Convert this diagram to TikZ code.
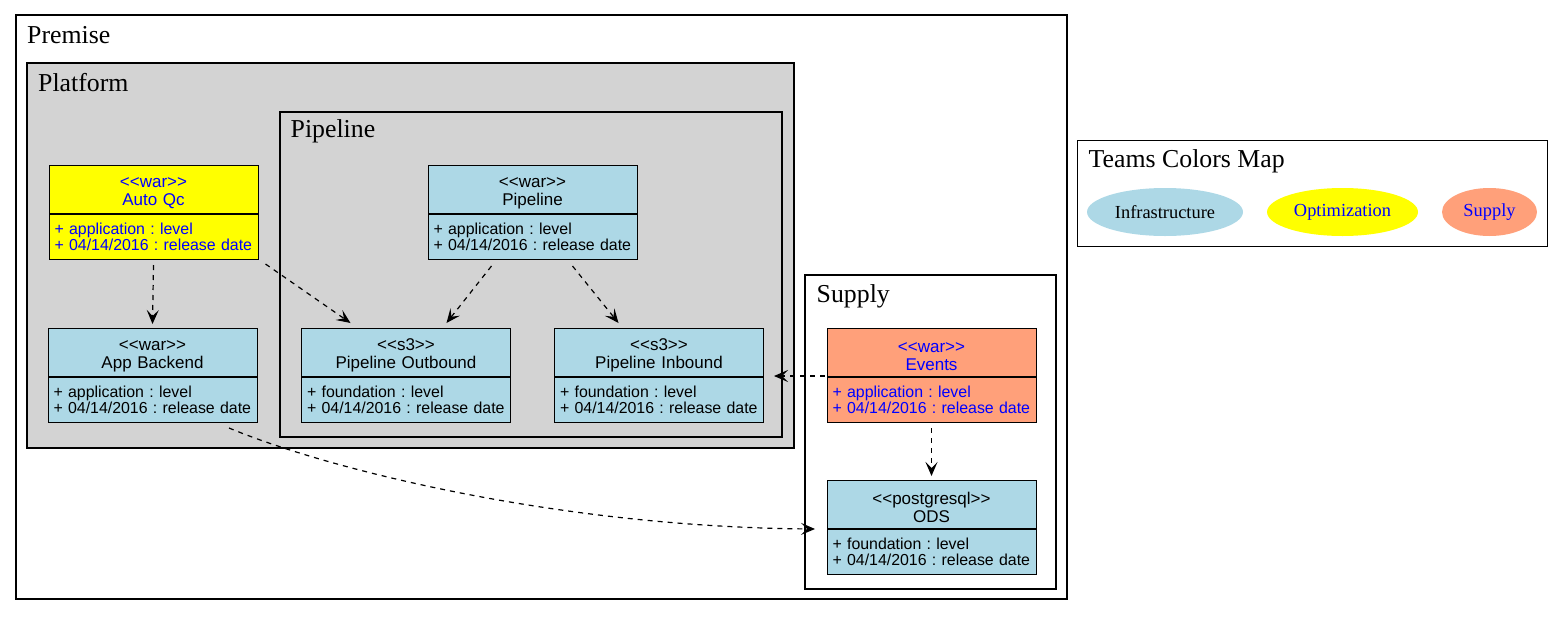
\documentclass[tikz,border=0pt]{standalone}
\usepackage{fontspec}
\setmainfont{Liberation Serif}
\newfontfamily\classfont{Liberation Sans}
\usetikzlibrary{arrows.meta,shapes.geometric}

\definecolor{infra}{HTML}{ADD8E6}
\definecolor{optim}{HTML}{FFFF00}
\definecolor{supplyc}{HTML}{FFA07A}
\definecolor{platformgray}{HTML}{D3D3D3}
\definecolor{teamblue}{HTML}{0000FF}

% stereotype brackets, kerned so they never become guillemets
\newcommand\stereo[1]{<\kern0pt<#1>\kern0pt>}

% a UML class: header (stereotype + name) over an attribute compartment
% #1 name, #2 top-left corner, #3 fill, #4 text colour,
% #5 stereotype, #6 title, #7 first attribute, #8 second attribute
\newcommand\umlclass[8]{%
  \node[classhead, fill=#3, text=#4, anchor=north west] (#1) at (#2)
    {\rule{0pt}{18pt}\stereo{#5}\\#6};
  \node[classbody, fill=#3, text=#4, anchor=north west] (#1-b) at (#1.south west)
    {\hspace*{3.5pt}#7\\\hspace*{3.5pt}#8};
}

\tikzset{
  classhead/.style={font=\classfont\fontsize{17}{18.2}\selectfont,
    draw=black, line width=1pt, text width=205pt,
    inner xsep=2pt, inner ysep=0pt, minimum height=48pt, align=center},
  classbody/.style={font=\classfont\fontsize{15.9}{15.7}\selectfont\frenchspacing,
    draw=black, line width=1pt, text width=205pt,
    inner xsep=2pt, inner ysep=0pt, minimum height=45pt, align=left},
  frame/.style={draw=black, line width=2pt},
  frametitle/.style={anchor=base west, inner sep=0pt, font=\fontsize{25.8}{30}\selectfont},
  legendtext/.style={font=\fontsize{18.4}{22}\selectfont},
  team/.style={ellipse, inner sep=0pt, minimum height=48pt, legendtext},
  dep/.style={draw=black, line width=1.2pt, dash pattern=on 5pt off 5pt,
    -{Stealth[length=14pt,width=12pt,inset=6pt]}},
}

\begin{document}
\begin{tikzpicture}[x=1pt, y=-1pt]
\useasboundingbox (0,0) rectangle (1563,616);

% clusters
\draw[frame] (16,15) rectangle (1067,599);
\node[frametitle] (premise-t) at (27,43.3) {Premise};

\draw[frame, fill=platformgray] (26.5,63) rectangle (794,448);
\node[frametitle] (platform-t) at (38,91) {Platform};

\draw[frame] (280,112) rectangle (782,437);
\node[frametitle] (pipelinecl-t) at (290.5,137.7) {Pipeline};

\draw[frame] (805,275) rectangle (1056,589);
\node[frametitle] (supplycl-t) at (816.5,302.5) {Supply};

% classes
\umlclass{autoqc}{48.5,165}{optim}{teamblue}{war}{Auto Qc}{+ application : level}{+ 04/14/2016 : release date}
\umlclass{pipeline}{427.5,165}{infra}{black}{war}{Pipeline}{+ application : level}{+ 04/14/2016 : release date}
\umlclass{appb}{47.5,328}{infra}{black}{war}{App Backend}{+ application : level}{+ 04/14/2016 : release date}
\umlclass{outbound}{301,328}{infra}{black}{s3}{Pipeline Outbound}{+ foundation : level}{+ 04/14/2016 : release date}
\umlclass{inbound}{554,328}{infra}{black}{s3}{Pipeline Inbound}{+ foundation : level}{+ 04/14/2016 : release date}
\umlclass{events}{826.5,328}{supplyc}{teamblue}{war}{Events}{+ application : level}{+ 04/14/2016 : release date}
\umlclass{ods}{826.5,480}{infra}{black}{postgresql}{ODS}{+ foundation : level}{+ 04/14/2016 : release date}

% dependencies
\draw[dep] ([shift={(0,5)}]autoqc-b.south) -- ([shift={(0,-4)}]appb.north);
\draw[dep] ([shift={(7,4)}]autoqc-b.south east) -- ([shift={(-55.5,-5)}]outbound.north);
\draw[dep] ([shift={(-41,6)}]pipeline-b.south) -- ([shift={(40.5,-5)}]outbound.north);
\draw[dep] ([shift={(40,6)}]pipeline-b.south) -- ([shift={(-40.5,-5)}]inbound.north);
\draw[dep] ([shift={(-2,-1)}]events.south west) -- ([shift={(10,-1)}]inbound.south east);
\draw[dep] ([shift={(0,5)}]events-b.south) -- ([shift={(0,-4)}]ods.north);
\draw[dep] ([shift={(-28.5,5)}]appb-b.south east)
  .. controls (330,470) and (560,527) .. ([shift={(-11.5,0)}]ods.south west);

% legend
\draw[draw=black, line width=1pt] (1077,140) rectangle (1547,246);
\node[anchor=base west, inner sep=0pt, font=\fontsize{25.8}{30}\selectfont] (legend-t) at (1088.5,167.5) {Teams Colors Map};
\node[team, fill=infra, minimum width=156pt] (team-infra) at (1165,212) {Infrastructure};
\node[team, fill=optim, text=teamblue, minimum width=151pt] (team-optim) at (1342.5,212) {Optimization};
\node[team, fill=supplyc, text=teamblue, minimum width=95pt] (team-supply) at (1489.5,212) {Supply};
\end{tikzpicture}
\end{document}
